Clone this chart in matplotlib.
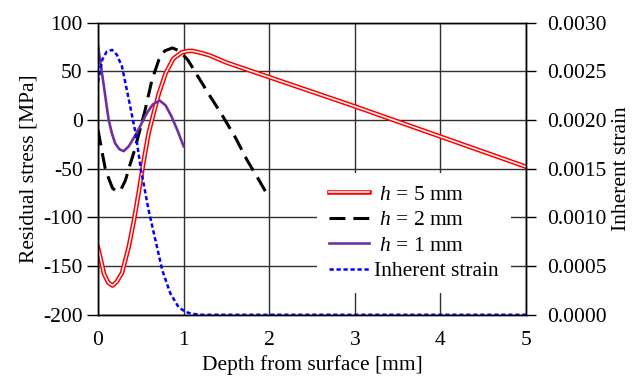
import numpy as np
from matplotlib import pyplot as plt
from matplotlib.lines import Line2D

plt.rcParams['font.family'] = 'Liberation Serif'
plt.rcParams['mathtext.fontset'] = 'custom'
plt.rcParams['mathtext.rm'] = 'Liberation Serif'
plt.rcParams['mathtext.it'] = 'Liberation Serif:italic'
plt.rcParams['axes.unicode_minus'] = False

# h = 5 mm
x_h5 = [0, 0.03, 0.07, 0.12, 0.17, 0.22, 0.28, 0.36, 0.42, 0.48, 0.53, 0.59, 0.65, 0.71, 0.79, 0.88,
        0.98, 1.05, 1.1, 1.2, 1.3, 1.5, 2.0, 3.0, 4.0, 5.0]
y_h5 = [-131, -142, -158, -167, -170, -166, -157, -130, -103, -72, -44, -14, 7, 27, 48, 63,
        69.5, 70.8, 71, 69, 66.5, 59, 44, 14, -17, -48]

# h = 2 mm
x_h2 = [0, 0.05, 0.085, 0.125, 0.17, 0.22, 0.27, 0.32, 0.37, 0.42, 0.475, 0.55, 0.63, 0.71, 0.78, 0.87,
        0.95, 1.05, 1.3, 1.45, 1.61, 1.74, 1.88, 2.0]
y_h2 = [-10, -34, -50, -60, -70, -73.6, -71, -62, -47, -33, -15, 10, 41, 61.6, 71, 74,
        71, 61.6, 25.7, 5, -18.8, -41, -61.6, -80]

# h = 1 mm
x_h1 = [0, 0.035, 0.07, 0.1, 0.125, 0.16, 0.2, 0.25, 0.3, 0.36, 0.44, 0.5, 0.57, 0.64, 0.72, 0.79, 0.86, 0.93, 1.0]
y_h1 = [76, 55, 34, 15, 0, -13, -24, -30, -32, -27, -15, -5, 7, 16, 20, 15, 3.4, -11, -27]

# inherent strain (right axis)
x_eps = [0, 0.05, 0.1, 0.165, 0.22, 0.28, 0.36, 0.44, 0.5, 0.59, 0.67, 0.75, 0.845, 0.94, 1.02, 1.1, 1.22, 1.4, 5.0]
y_eps = [0.00239, 0.00262, 0.00270, 0.00272, 0.00267, 0.00255, 0.00221, 0.00186, 0.00150, 0.00108,
         0.00077, 0.00046, 0.00022, 0.00008, 0.00003, 0.00001, 0.0, 0.0, 0.0]

labels = [' $h$ = 5 mm', ' $h$ = 2 mm', ' $h$ = 1 mm', 'Inherent strain']

fs = 15.5
fig = plt.figure(figsize=(6.38, 3.84), dpi=100)
ax = fig.add_axes([98 / 638, 1 - 314.8 / 384, 428 / 638, 292.2 / 384])
ax2 = ax.twinx()

ax.plot(x_h5, y_h5, color='red', lw=3.3, solid_joinstyle='round')
ax.plot(x_h5, y_h5, color='white', lw=1.1)
ax.plot(x_h2, y_h2, color='black', lw=2.2, dashes=(5.2, 2.6))
ax.plot(x_h1, y_h1, color='#7030A0', lw=1.9)
ax2.plot(x_eps, y_eps, color='blue', lw=1.8, dashes=(1.7, 1.1))

ax.set_xlim(0, 5)
ax.set_ylim(-200, 100)
ax2.set_ylim(0, 0.003)
ax.set_xticks(np.arange(0, 6, 1))
ax.set_yticks(np.arange(-200, 101, 50))
ax2.set_yticks(np.arange(0, 0.00301, 0.0005))
ax2.set_yticklabels(['%.4f' % v for v in np.arange(0, 0.00301, 0.0005)])
ax.grid(True, color='#303030', lw=1)
ax.tick_params(axis='x', length=0, pad=12, labelsize=fs)
ax.tick_params(axis='y', direction='out', length=8, width=1, pad=3, labelsize=fs)
ax2.tick_params(axis='y', direction='out', length=7, width=1, pad=8, labelsize=fs)
for a in (ax, ax2):
    for s in a.spines.values():
        s.set_color('black')
        s.set_linewidth(1)
ax.spines['top'].set_color('#303030')

ax.set_xlabel('Depth from surface [mm]', fontsize=fs, labelpad=3)
ax.set_ylabel('Residual stress [MPa]', fontsize=fs, labelpad=3)
ax2.set_ylabel('Inherent strain', fontsize=fs, labelpad=4)

h5 = (Line2D([], [], color='red', lw=3.3), Line2D([], [], color='white', lw=1.1))
h2 = Line2D([], [], color='black', lw=2.2, dashes=(5.2, 2.6))
h1 = Line2D([], [], color='#7030A0', lw=1.9)
he = Line2D([], [], color='blue', lw=1.8, dashes=(1.7, 1.1))
leg = ax2.legend([h5, h2, h1, he], labels,
                 loc='upper left', bbox_to_anchor=(317 / 638, 1 - 173 / 384),
                 bbox_transform=fig.transFigure, fontsize=fs, frameon=True, fancybox=False,
                 edgecolor='none', facecolor='white', framealpha=1, handlelength=1.85,
                 handletextpad=0.25, labelspacing=0.25, borderpad=0.55, borderaxespad=0)

fig.savefig('out.png', dpi=100)
